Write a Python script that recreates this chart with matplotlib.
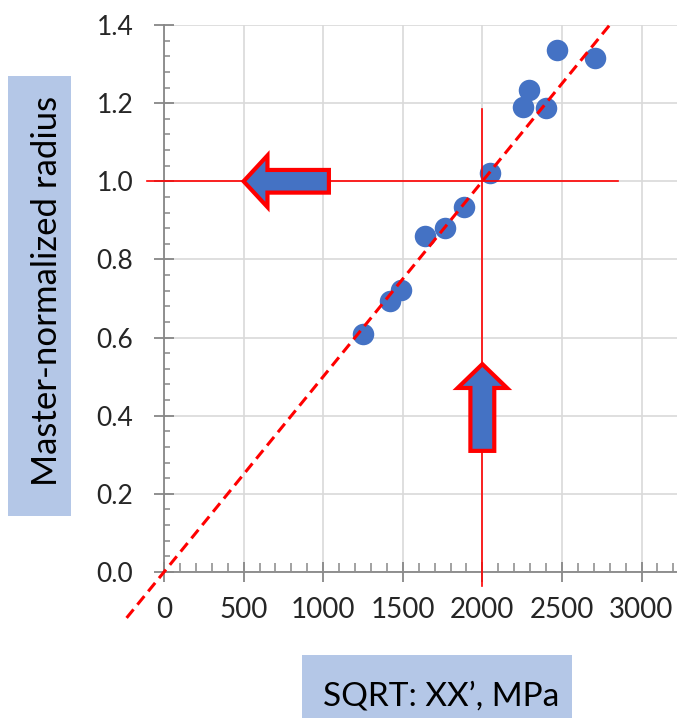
import numpy as np
import matplotlib.pyplot as plt
from matplotlib.patches import Polygon, Rectangle
from matplotlib.ticker import MultipleLocator

plt.rcParams['font.family'] = ['Lato', 'DejaVu Sans']

# data
stress = [1248, 1420, 1487, 1641, 1763, 1884, 2048, 2257, 2295, 2398, 2467, 2707]
radius = [0.609, 0.693, 0.723, 0.861, 0.881, 0.933, 1.021, 1.190, 1.234, 1.188, 1.337, 1.316]

# dashed trend line y = x / 2000
fit_slope = 1 / 2000
fit_x = np.array([-235, 2800])

# reference cross at (2000, 1.0)
ref_x = 2000
ref_y = 1.0

BLUE = '#4472C4'
BOX = '#B4C7E7'

fig = plt.figure(figsize=(6.77, 7.2), dpi=100)
ax = fig.add_axes([164 / 677, 148 / 720, 513 / 677, 547 / 720])

ax.set_xlim(0, 3223)
ax.set_ylim(0, 1.4)

ax.scatter(stress, radius, s=240, color=BLUE, linewidths=0, zorder=3)

ax.plot(fit_x, fit_slope * fit_x, color='red', lw=2.2, dashes=(3.6, 2.0),
        clip_on=False, zorder=4)
ax.plot([-107, 2852], [ref_y, ref_y], color='red', lw=1.2, clip_on=False, zorder=4)
ax.plot([ref_x, ref_x], [-0.035, 1.185], color='red', lw=1.2, clip_on=False, zorder=4)

# block arrows
def arrow_left(tip_x, tip_y, head_len, head_half, tail_x, shaft_half):
    hb = tip_x + head_len
    return [(tip_x, tip_y), (hb, tip_y + head_half), (hb, tip_y + shaft_half),
            (tail_x, tip_y + shaft_half), (tail_x, tip_y - shaft_half),
            (hb, tip_y - shaft_half), (hb, tip_y - head_half)]


def arrow_up(tip_x, tip_y, head_len, head_half, tail_y, shaft_half):
    hb = tip_y - head_len
    return [(tip_x, tip_y), (tip_x + head_half, hb), (tip_x + shaft_half, hb),
            (tip_x + shaft_half, tail_y), (tip_x - shaft_half, tail_y),
            (tip_x - shaft_half, hb), (tip_x - head_half, hb)]


ax.add_patch(Polygon(arrow_left(500, ref_y, 150, 0.066, 1036, 0.029),
                     closed=True, facecolor=BLUE, edgecolor='red', lw=3,
                     joinstyle='miter', zorder=5))
ax.add_patch(Polygon(arrow_up(ref_x, 0.532, 0.061, 155, 0.310, 75),
                     closed=True, facecolor=BLUE, edgecolor='red', lw=3,
                     joinstyle='miter', zorder=5))

# axes styling
for side in ['top', 'right']:
    ax.spines[side].set_visible(False)
for side in ['left', 'bottom']:
    ax.spines[side].set_color('#878787')
    ax.spines[side].set_linewidth(1.3)

ax.xaxis.set_major_locator(MultipleLocator(500))
ax.xaxis.set_minor_locator(MultipleLocator(100))
ax.yaxis.set_major_locator(MultipleLocator(0.2))
ax.yaxis.set_minor_locator(MultipleLocator(0.04))
ax.yaxis.set_major_formatter(plt.FuncFormatter(lambda v, p: f'{v:.1f}'))

ax.grid(True, which='major', color='#d9d9d9', lw=1.2, zorder=0)
ax.set_axisbelow(True)

ax.tick_params(axis='both', which='major', direction='inout', length=14,
               width=1.3, color='#878787', labelcolor='#262626')
ax.tick_params(axis='y', which='major', pad=15, labelsize=19)
ax.tick_params(axis='x', which='major', pad=11, labelsize=20)
ax.tick_params(axis='y', which='minor', direction='in', length=4, width=1.1,
               color='#878787')
ax.tick_params(axis='x', which='minor', direction='in', length=6.5, width=1.1,
               color='#878787')

# boxed axis titles
fig.patches.append(Rectangle((8 / 677, 1 - 516 / 720), 63 / 677, 440 / 720,
                             transform=fig.transFigure, facecolor=BOX,
                             edgecolor='none'))
fig.text(57 / 677, 1 - 291 / 720, 'Master-normalized radius', rotation=90,
         rotation_mode='anchor', ha='center', va='baseline', fontsize=25,
         color='black')

fig.patches.append(Rectangle((302 / 677, 1 - 718 / 720), 270 / 677, 63 / 720,
                             transform=fig.transFigure, facecolor=BOX,
                             edgecolor='none'))
fig.text(441 / 677, 1 - 705 / 720, 'SQRT: XX\u2019, MPa', ha='center',
         va='baseline', fontsize=24, color='black')

fig.savefig('out.png', dpi=100)
